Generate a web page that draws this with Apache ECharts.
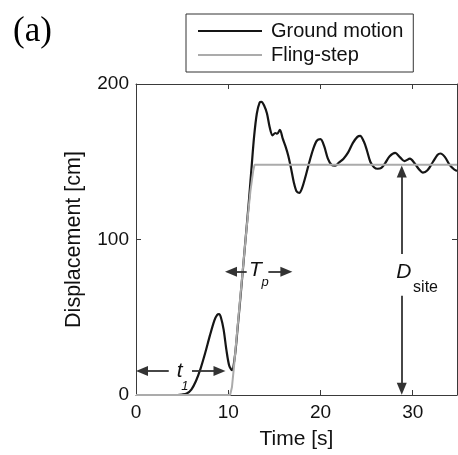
<!DOCTYPE html>
<html>
<head>
<meta charset="utf-8">
<script src="https://cdn.jsdelivr.net/npm/echarts@6/dist/echarts.min.js"></script>
<style>
  html, body { margin: 0; padding: 0; background: #fff; }
  #chart { width: 458px; height: 455px; }
</style>
</head>
<body>
<div id="chart"></div>
<script>
// Recorded ground-motion displacement history (s, cm)
const gmTime = [0, 4.5, 5.0, 5.5, 6.0, 6.5, 7.0, 7.5, 8.0, 8.5, 8.8, 9.0, 9.2, 9.5, 9.8, 10.1, 10.4,
  10.7, 11.0, 11.4, 11.8, 12.2, 12.55, 12.8, 13.1, 13.4, 13.6, 13.9, 14.2, 14.5, 14.8, 15.1, 15.3,
  15.6, 15.9, 16.2, 16.5, 16.8, 17.1, 17.4, 17.7, 18.0, 18.4, 18.8, 19.2, 19.6, 20.0, 20.4, 20.8,
  21.2, 21.6, 22.0, 22.5, 23.0, 23.5, 24.0, 24.3, 24.7, 25.0, 25.4, 25.8, 26.2, 26.6, 27.0, 27.5,
  28.1, 28.6, 29.1, 29.7, 30.2, 30.7, 31.1, 31.6, 32.2, 32.7, 33.0, 33.5, 34.0, 34.5, 34.8];
const gmDisp = [0, 0, 0.3, 1, 3.5, 9, 17, 27, 38, 48, 51.5, 52, 50, 42, 29, 19, 16,
  24, 42, 68, 95, 122, 148, 166, 181, 188, 188.5, 186, 181, 172, 167, 168.5, 168,
  170.5, 165, 160, 154, 146, 137, 131, 130, 133, 141, 150, 158, 163.5, 164.5, 160, 152,
  148, 147.5, 149.5, 152, 156, 162, 166, 166.7, 163, 158, 150, 146.5, 145.5, 146, 149, 153.5,
  155.7, 153, 150.4, 152, 149, 145, 143, 144.5, 150, 154.5, 155.3, 153, 148, 145, 144];

// Idealised fling-step displacement (s, cm)
const fsTime = [0, 10.2, 10.4, 10.6, 10.8, 11.2, 11.6, 12.0, 12.4, 12.7, 12.85, 34.8];
const fsDisp = [0, 0, 5, 17, 30, 56, 82, 108, 131, 144, 148, 148];

// Axis ranges and tick step
const timeRange = [0, 34.8];
const dispRange = [0, 200];
const timeStep = 10;
const dispStep = 100;

// Annotation arrow shafts in data units: [x1, y1, x2, y2, headAtStart, headAtEnd]
// (the arrowhead is centred on the shaft end, so the shaft stops half a head short of the tip)
const arrowSegments = [
  [0.65, 15.5, 3.55, 15.5, true, false],    // t1, left half
  [6.07, 15.5, 9.05, 15.5, false, true],    // t1, right half
  [10.3, 79.2, 12.0, 79.2, true, false],    // Tp, left half
  [14.35, 79.2, 16.3, 79.2, false, true],   // Tp, right half
  [28.81, 90.6, 28.81, 143.8, false, true], // D_site, upper part
  [28.81, 63.9, 28.81, 4.0, false, true]    // D_site, lower part
];

// Annotation text in data units: [x, y, text, style]
const annotationText = [
  [4.74, 15.5, 't', 'main'],
  [5.3, 5.5, '1', 'sub'],
  [12.95, 80.0, 'T', 'main'],
  [14.0, 72.5, 'p', 'sub'],
  [29.03, 78.7, 'D', 'main'],
  [31.39, 68.8, 'site', 'plainSub']
];

const pair = (xs, ys) => xs.map((x, i) => [x, ys[i]]);

const FONT = 'Liberation Sans, Arial, Helvetica, sans-serif';
const AXIS_COLOR = '#3a3a3a';
const ARROW_COLOR = '#333';

const textStyles = {
  main: { fontSize: 21, fontStyle: 'italic' },
  sub: { fontSize: 13, fontStyle: 'italic' },
  plainSub: { fontSize: 16, fontStyle: 'normal' }
};

const chart = echarts.init(document.getElementById('chart'), null, { renderer: 'canvas' });

const boxAxis = (position, isX) => ({
  type: 'value',
  position: position,
  min: isX ? timeRange[0] : dispRange[0],
  max: isX ? timeRange[1] : dispRange[1],
  interval: isX ? timeStep : dispStep,
  axisLine: { show: true, onZero: false, lineStyle: { color: AXIS_COLOR, width: 1 } },
  axisTick: { show: true, inside: true, length: 5, lineStyle: { color: AXIS_COLOR, width: 1 } },
  axisLabel: { show: false },
  splitLine: { show: false }
});

const option = {
  animation: false,
  backgroundColor: '#fff',
  title: {
    text: '(a)',
    left: 8,
    top: 9,
    textStyle: { fontFamily: 'Liberation Serif, Times New Roman, serif', fontSize: 35, fontWeight: 'normal', color: '#000' }
  },
  legend: {
    data: ['Ground motion', 'Fling-step'],
    orient: 'vertical',
    left: 186,
    top: 14,
    padding: [7, 10, 7, 12],
    icon: 'rect',
    itemWidth: 64,
    itemHeight: 2,
    itemGap: 4,
    borderColor: '#333',
    borderWidth: 1,
    textStyle: { fontFamily: FONT, fontSize: 20, color: '#111', padding: [0, 0, 0, 4] }
  },
  grid: { left: 136, right: 1, top: 84, bottom: 57, containLabel: false },
  xAxis: [
    Object.assign(boxAxis('bottom', true), {
      axisLabel: { show: true, showMaxLabel: false, fontFamily: FONT, fontSize: 19, color: '#111', margin: 8 },
      name: 'Time [s]',
      nameLocation: 'middle',
      nameGap: 34,
      nameTextStyle: { fontFamily: FONT, fontSize: 21, color: '#111' }
    }),
    boxAxis('top', true)
  ],
  yAxis: [
    Object.assign(boxAxis('left', false), {
      axisLabel: { show: true, fontFamily: FONT, fontSize: 19, color: '#111', margin: 7 },
      name: 'Displacement [cm]',
      nameLocation: 'middle',
      nameGap: 51,
      nameRotate: 90,
      nameTextStyle: { fontFamily: FONT, fontSize: 21.5, color: '#111' }
    }),
    boxAxis('right', false)
  ],
  series: [
    {
      name: 'Ground motion',
      type: 'line',
      data: pair(gmTime, gmDisp),
      symbol: 'none',
      smooth: 0.3,
      lineStyle: { color: '#151515', width: 2.2 },
      itemStyle: { color: '#151515' },
      z: 3
    },
    {
      name: 'Fling-step',
      type: 'line',
      data: pair(fsTime, fsDisp),
      symbol: 'none',
      lineStyle: { color: '#ababab', width: 2 },
      itemStyle: { color: '#ababab' },
      z: 4
    },
    {
      name: 'annotations',
      type: 'line',
      data: [],
      silent: true,
      z: 5,
      markLine: {
        silent: true,
        animation: false,
        label: { show: false },
        lineStyle: { color: ARROW_COLOR, width: 1.8, type: 'solid' },
        symbolSize: [10, 12],
        data: arrowSegments.map(s => [
          { coord: [s[0], s[1]], symbol: s[4] ? 'triangle' : 'none' },
          { coord: [s[2], s[3]], symbol: s[5] ? 'triangle' : 'none' }
        ])
      },
      markPoint: {
        silent: true,
        animation: false,
        symbol: 'circle',
        symbolSize: 1,
        itemStyle: { color: 'rgba(0,0,0,0)' },
        data: annotationText.map(a => ({
          coord: [a[0], a[1]],
          label: Object.assign({
            show: true,
            position: 'inside',
            formatter: a[2],
            color: '#111',
            fontFamily: FONT
          }, textStyles[a[3]])
        }))
      }
    }
  ]
};

chart.setOption(option);
</script>
</body>
</html>
